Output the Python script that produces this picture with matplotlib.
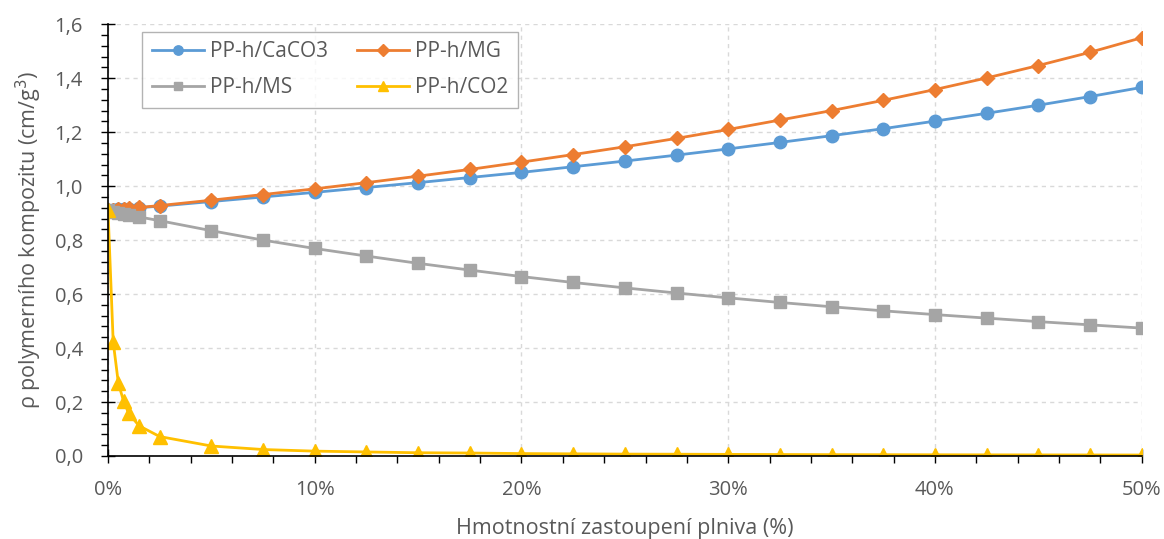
import matplotlib
matplotlib.use("Agg")
from matplotlib import pyplot as plt
from matplotlib.ticker import FuncFormatter, MultipleLocator

plt.rcParams['font.family'] = ['Open Sans', 'DejaVu Sans']

# filler content in %
plnivo = [0, 0.25, 0.5, 0.75, 1, 1.5, 2.5, 5, 7.5, 10, 12.5, 15, 17.5, 20,
          22.5, 25, 27.5, 30, 32.5, 35, 37.5, 40, 42.5, 45, 47.5, 50]

caco3 = [0.910, 0.912, 0.914, 0.915, 0.917, 0.920, 0.926, 0.943, 0.960, 0.977,
         0.995, 1.013, 1.032, 1.051, 1.072, 1.093, 1.115, 1.138, 1.162, 1.187,
         1.213, 1.241, 1.270, 1.300, 1.332, 1.366]
mg = [0.910, 0.912, 0.914, 0.916, 0.918, 0.921, 0.928, 0.948, 0.969, 0.990,
      1.013, 1.037, 1.062, 1.089, 1.117, 1.146, 1.177, 1.210, 1.245, 1.280,
      1.318, 1.358, 1.401, 1.447, 1.496, 1.550]
ms = [0.910, 0.905, 0.900, 0.897, 0.893, 0.886, 0.872, 0.835, 0.800, 0.769,
      0.741, 0.714, 0.689, 0.665, 0.643, 0.623, 0.604, 0.586, 0.569, 0.553,
      0.538, 0.524, 0.511, 0.498, 0.486, 0.474]
co2 = [0.910, 0.423, 0.270, 0.204, 0.158, 0.112, 0.072, 0.037, 0.024, 0.018,
       0.015, 0.012, 0.011, 0.009, 0.008, 0.007, 0.0066, 0.006, 0.0055, 0.005,
       0.0048, 0.0045, 0.0042, 0.004, 0.0038, 0.0036]

fig = plt.figure(figsize=(11.64, 5.39), dpi=100)
ax = fig.add_axes([0.0928, 0.154, 0.888, 0.801])

l1, = ax.plot(plnivo, caco3, color='#5B9BD5', marker='o', markersize=9, lw=2, label='PP-h/CaCO3')
l2, = ax.plot(plnivo, mg, color='#ED7D31', marker='D', markersize=7.5, lw=2, label='PP-h/MG')
l3, = ax.plot(plnivo, ms, color='#A5A5A5', marker='s', markersize=8.5, lw=2, label='PP-h/MS')
l4, = ax.plot(plnivo, co2, color='#FFC000', marker='^', markersize=9.5, lw=2, label='PP-h/CO2')

ax.set_xlim(0, 50)
ax.set_ylim(0, 1.6)
ax.xaxis.set_major_locator(MultipleLocator(10))
ax.xaxis.set_minor_locator(MultipleLocator(2))
ax.yaxis.set_major_locator(MultipleLocator(0.2))
ax.yaxis.set_minor_locator(MultipleLocator(0.04))
ax.xaxis.set_major_formatter(FuncFormatter(lambda v, p: '%d%%' % round(v)))
ax.yaxis.set_major_formatter(FuncFormatter(lambda v, p: ('%.1f' % v).replace('.', ',')))

ax.grid(True, which='major', color='#D9D9D9', linestyle=(0, (3, 3)), lw=1)
ax.set_axisbelow(True)
for s in ['top', 'right']:
    ax.spines[s].set_visible(False)
for s in ['left', 'bottom']:
    ax.spines[s].set_color('black')
    ax.spines[s].set_linewidth(1.2)

ax.tick_params(which='major', direction='inout', length=10, width=1, colors='black',
               labelcolor='#595959', labelsize=14.5)
ax.tick_params(which='minor', direction='out', length=5, width=1, colors='black')
ax.tick_params(axis='y', which='major', pad=13)
ax.tick_params(axis='x', which='major', pad=12)

ax.set_xlabel('Hmotnostní zastoupení plniva (%)', color='#595959', fontsize=15.5, labelpad=13)
ax.set_ylabel('ρ polymerního kompozitu (cm/g$^3$)', color='#595959', fontsize=15.5, labelpad=8)

leg = ax.legend(handles=[l1, l3, l2, l4], ncol=2, loc='upper left',
                bbox_to_anchor=(0.033, 0.982), fontsize=15, frameon=True, fancybox=False,
                edgecolor='#A0A0A0', markerscale=0.75, handlelength=2.5, handletextpad=0.3,
                columnspacing=1.4, labelspacing=0.72, borderpad=0.45, borderaxespad=0)
leg.get_frame().set_linewidth(1)
for t in leg.get_texts():
    t.set_color('#595959')

fig.savefig('out.png', dpi=100)
